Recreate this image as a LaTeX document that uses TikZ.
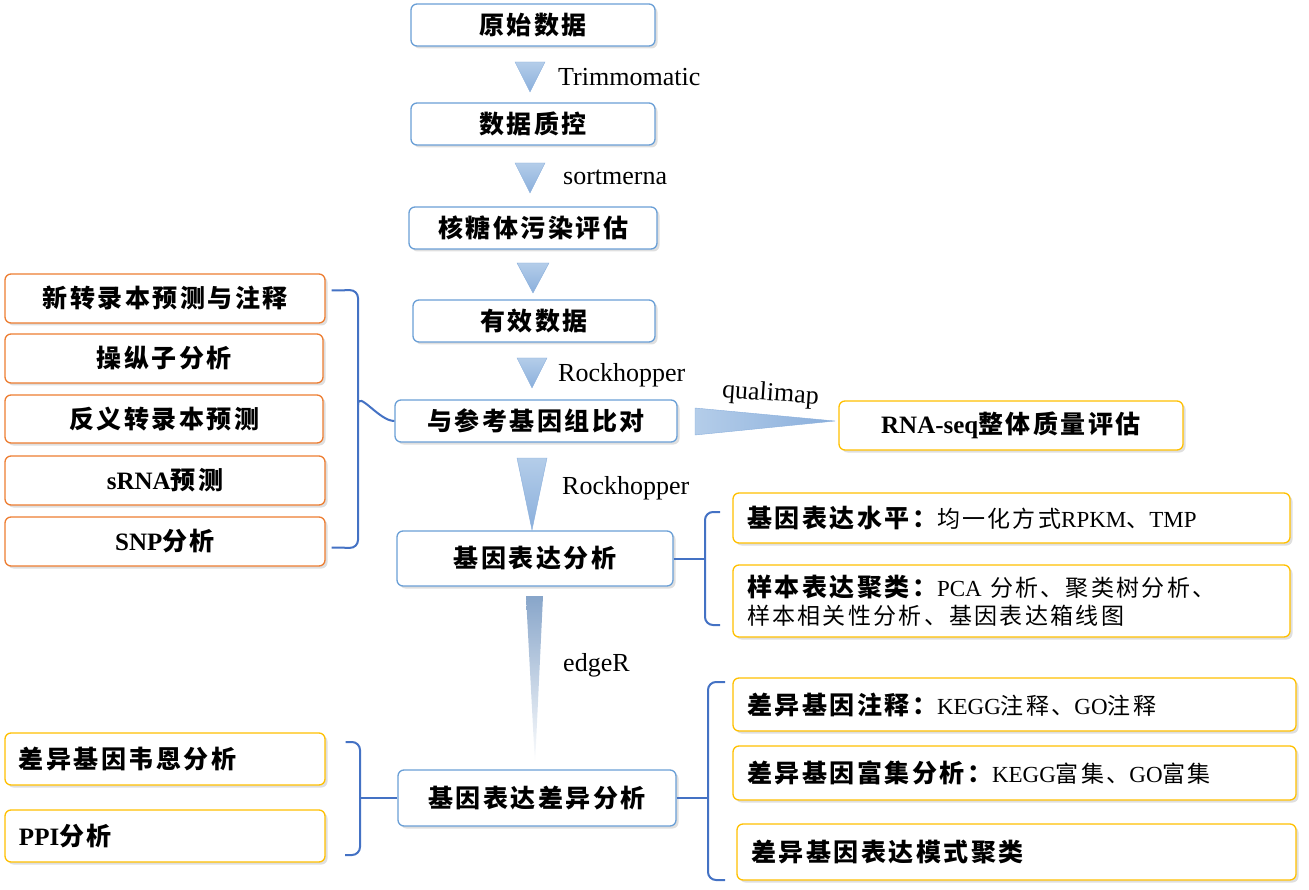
\documentclass[tikz,border=0pt]{standalone}
\usepackage{fontspec}
\setmainfont{Liberation Serif}
\newfontfamily\cjk{Noto Sans CJK SC}[LetterSpace=10]
\usetikzlibrary{shadows,calc}
\newcommand{\zh}[1]{{\cjk #1}}
\tikzset{
 bx/.style={draw=#1, line width=1.3pt, rounded corners=6pt, fill=white, drop shadow={opacity=0.25,shadow xshift=2.5pt,shadow yshift=-2.5pt}, inner sep=0pt, font=\fontsize{25}{28}\selectfont\bfseries},
 blu/.style={bx=boxblue},
 org/.style={bx=boxorange},
 yel/.style={bx=boxyellow},
 brc/.style={draw=braceblue, line width=2pt, rounded corners=8pt},
 tri/.style={top color=trilight, bottom color=tridark, draw=tridark, line width=0.4pt},
 lbl/.style={font=\fontsize{26}{28}\selectfont, inner sep=0pt, anchor=west}
}
\definecolor{boxblue}{HTML}{6A9FD6}
\definecolor{boxorange}{HTML}{ED7D31}
\definecolor{boxyellow}{HTML}{FFC000}
\definecolor{braceblue}{HTML}{4472C4}
\definecolor{trilight}{HTML}{B4CDE9}
\definecolor{tridark}{HTML}{8AAFDC}
\newcommand{\bx}[7]{\node[#6, minimum width={(#4-#2)*1pt}, minimum height={(#5-#3)*1pt}] (#1) at ({(#2+#4)/2},{(#3+#5)/2}) {#7};}
\newcommand{\lbx}[7]{\node[#6, minimum width={(#4-#2)*1pt}, minimum height={(#5-#3)*1pt}, align=left, text width={(#4-#2-28)*1pt}] (#1) at ({(#2+#4)/2},{(#3+#5)/2}) {#7};}
\begin{document}
\begin{tikzpicture}[x=1pt,y=-1pt]
\useasboundingbox (0,0) rectangle (1309,890);
% center column
\bx{c1}{411}{4}{655}{46}{blu}{\zh{原始数据}}
\bx{c2}{411}{103}{655}{145}{blu}{\zh{数据质控}}
\bx{c3}{409}{207}{657}{249}{blu}{\zh{核糖体污染评估}}
\bx{c4}{413}{300}{655}{342}{blu}{\zh{有效数据}}
\bx{c5}{395}{400}{677}{442}{blu}{\zh{与参考基因组比对}}
\bx{c6}{397}{531}{673}{586}{blu}{\zh{基因表达分析}}
\bx{c7}{398}{770}{676}{826}{blu}{\zh{基因表达差异分析}}
% left
\bx{l1}{5}{274}{325}{323}{org}{\zh{新转录本预测与注释}}
\bx{l2}{5}{334}{323}{383}{org}{\zh{操纵子分析}}
\bx{l3}{5}{395}{323}{443}{org}{\zh{反义转录本预测}}
\bx{l4}{5}{456}{325}{505}{org}{sRNA\zh{预测}}
\bx{l5}{5}{517}{325}{566}{org}{SNP\zh{分析}}
\lbx{l6}{5}{733}{325}{785}{yel}{\zh{差异基因韦恩分析}}
\lbx{l7}{5}{810}{325}{862}{yel}{PPI\zh{分析}}
% right
\bx{r0}{839}{401}{1183}{450}{yel}{RNA-seq\zh{整体质量评估}}
\lbx{r1}{733}{493}{1290}{543}{yel}{\zh{基因表达水平：}{\mdseries\fontsize{23}{26}\selectfont\zh{均一化方式}RPKM\zh{、}TMP}}
\lbx{r2}{733}{565}{1290}{637}{yel}{\fontsize{23}{31}\selectfont\zh{\fontsize{25}{31}\selectfont 样本表达聚类：}{\mdseries PCA \zh{分析、聚类树分析、}\\ \zh{样本相关性分析、基因表达箱线图}}}
\lbx{r3}{733}{678}{1296}{731}{yel}{\zh{差异基因注释：}{\mdseries\fontsize{23}{26}\selectfont KEGG\zh{注释、}GO\zh{注释}}}
\lbx{r4}{733}{746}{1296}{800}{yel}{\zh{差异基因富集分析：}{\mdseries\fontsize{23}{26}\selectfont KEGG\zh{富集、}GO\zh{富集}}}
\lbx{r5}{737}{824}{1296}{880}{yel}{\zh{差异基因表达模式聚类}}
% arrows
\shade[tri] (515,62) -- (545,62) -- (530,92) -- cycle;
\shade[tri] (515,163) -- (545,163) -- (530,193) -- cycle;
\shade[tri] (517,263) -- (549,263) -- (533,293) -- cycle;
\shade[tri] (517,358) -- (547,358) -- (532,388) -- cycle;
\shade[tri] (517,458) -- (547,458) -- (532,530) -- cycle;
\shade[top color=tridark!80!gray, bottom color=white, draw=none] (526,596) -- (543,596) -- (535,765) -- cycle;
\shade[left color=trilight, right color=tridark, draw=tridark, line width=0.4pt] (695,408) -- (835,421) -- (695,435) -- cycle;
\node[lbl] (t1) at (558,77) {Trimmomatic};
\node[lbl] (t2) at (563,177) {sortmerna};
\node[lbl] (t3) at (558,375) {Rockhopper};
\node[lbl, rotate=-4] (t4) at (722,391) {qualimap};
\node[lbl] (t5) at (562,488) {Rockhopper};
\node[lbl] (t6) at (563,665) {edgeR};
% braces
\draw[brc] ($(l1.east)+(6,-8)$) -- (358,290) -- (358,548) -- ($(l5.east)+(6,6)$);
\draw[brc] (358,405) to[out=90,in=180] (c5.west);
\draw[brc] (c6.east) -- (705,558.5);
\draw[brc] (720,512) -- (705,512) -- (705,625) -- (720,625);
\draw[brc] ($(l6.east)+(20,-17)$) -- (360,742) -- (360,855) -- ++(-15,0);
\draw[brc] (360,798) -- (c7.west);
\draw[brc] (c7.east) -- (708,798);
\draw[brc] (725,682) -- (708,682) -- (708,880) -- (725,880);
\end{tikzpicture}
\end{document}
